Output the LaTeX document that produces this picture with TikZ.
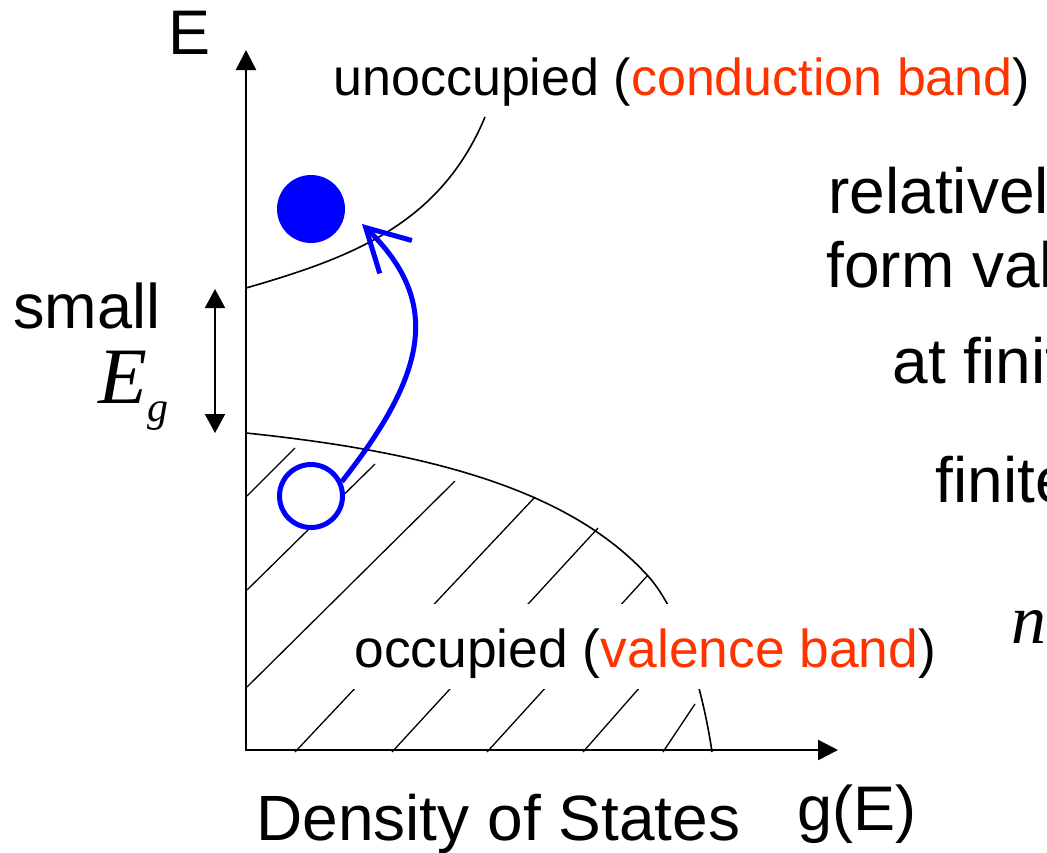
\documentclass[tikz,border=0pt]{standalone}
\usepackage{fontspec}
\setmainfont{Liberation Sans}
\newfontfamily\timesfont{Liberation Serif}
\usepackage{tikz}
\usetikzlibrary{arrows.meta}
\definecolor{bandred}{RGB}{255,51,0}
\definecolor{carrierblue}{RGB}{0,0,255}

\tikzset{
  axisline/.style={line width=1.2pt, {Triangle[length=10pt,width=10pt]}-{Triangle[length=10pt,width=10pt]}},
  bandcurve/.style={line width=0.8pt},
  hatchline/.style={line width=0.65pt},
  biglabel/.style={font=\fontsize{31.5}{36}\selectfont, inner sep=0pt},
  bandlabel/.style={font=\fontsize{26}{30}\selectfont, inner sep=0pt},
  notetext/.style={font=\fontsize{32}{38}\selectfont, inner sep=0pt, anchor=base west},
}

\begin{document}
\begin{tikzpicture}[x=0.5pt, y=-0.5pt]
  \useasboundingbox (0,0) rectangle (1047,852);
  \clip (0,0) rectangle (1047,852);

  % Axes
  \coordinate (origin) at (246,750);
  \coordinate (Etop) at (246,50);
  \coordinate (gend) at (838,750);
  \draw[axisline] (Etop) -- (origin) -- (gend);
  \node[biglabel] (Elabel) at (190,33) {E};
  \node[biglabel, anchor=base west] (glabel) at (797,830) {g(E)};
  \node[biglabel, anchor=base west, font=\fontsize{32}{36}\selectfont] (doslabel) at (256,840) {Density of States};

  % Conduction band edge
  \draw[bandcurve] (246,288) .. controls (350,258) and (440,225) .. (485,117);

  % Valence band edge
  \draw[bandcurve] (246,433) .. controls (430,452) and (570,490) .. (648,576)
                   .. controls (680,611) and (703,690) .. (712,752);

  % Hatching of the occupied states
  \foreach \xa/\ya/\xb/\yb in {247/496/295/448, 247/590/375/464, 247/687/455/481,
      295/752/535/497, 392/752/598/528, 487/752/648/575, 583/752/655/670, 663/752/695/704}
    \draw[hatchline] (\xa,\ya) -- (\xb,\yb);

  % Band labels
  \node[bandlabel, anchor=base west] (cblabel) at (333,95)
    {unoccupied (\textcolor{bandred}{conduction band})};
  \node[bandlabel, anchor=base west, font=\fontsize{26.7}{30}\selectfont, fill=white, inner xsep=1pt,
        text height=31.5pt, text depth=11pt] (vblabel) at (352,667)
    {occupied (\textcolor{bandred}{valence band})};

  % Electron and hole
  \node[circle, fill=carrierblue, minimum size=34pt, inner sep=0pt] (electron) at (311,209) {};
  \node[circle, draw=carrierblue, fill=white, line width=2.5pt, minimum size=31.5pt,
        inner sep=0pt] (hole) at (311,496) {};
  \coordinate (tip) at (362,224);
  \draw[carrierblue, line width=2.5pt, -{Straight Barb[length=21pt, width=23pt]}]
    (hole.25) .. controls (430,370) and (440,300) .. (tip);

  % Band gap
  \coordinate (gaptop) at (215,289);
  \coordinate (gapbot) at (215,433);
  \draw[line width=1pt, {Triangle[length=9.5pt,width=10pt]}-{Triangle[length=9.5pt,width=10pt]}]
    (gaptop) -- (gapbot);
  \node[biglabel, anchor=base west] (smalllabel) at (13,328) {small};
  \node[font=\timesfont\itshape\fontsize{40}{44}\selectfont, inner sep=0pt, anchor=base west]
    (Eglabel) at (98,403) {E\raisebox{-9pt}{\fontsize{21}{24}\selectfont g}};

  % Explanatory text, cut off at the right edge
  \node[notetext] (note1) at (828,213) {relatively};
  \node[notetext] (note2) at (826,287) {form valence};
  \node[notetext] (note3) at (892,383) {at finite};
  \node[notetext] (note4) at (935,502) {finite};
  \node[notetext, font=\timesfont\itshape\fontsize{35}{40}\selectfont] (note5) at (1011,643)
    {n\raisebox{-7pt}{\fontsize{18}{20}\selectfont i}};
\end{tikzpicture}
\end{document}
